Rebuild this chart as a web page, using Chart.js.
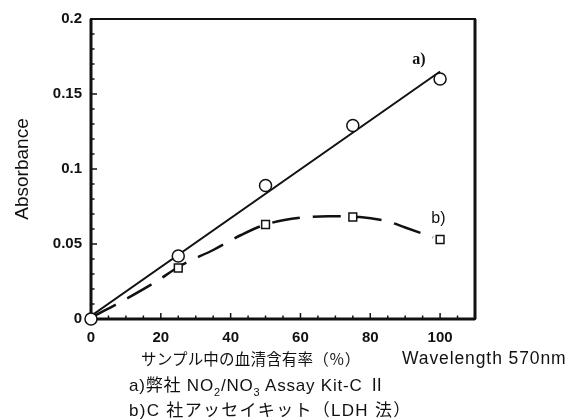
<!DOCTYPE html>
<html>
<head>
<meta charset="utf-8">
<script src="https://cdn.jsdelivr.net/npm/chart.js@4.4.0/dist/chart.umd.min.js"></script>
<style>
html, body { margin: 0; padding: 0; background: #fff; }
#wrap { position: relative; width: 571px; height: 420px; }
#wrap canvas { position: absolute; left: 0; top: 0; }
.note { position: absolute; font-family: "Liberation Sans", "Noto Sans CJK JP", sans-serif; font-size: 17px; color: #111; white-space: nowrap; line-height: 18px; letter-spacing: 0.8px; }
.note sub { font-size: 11px; vertical-align: -5px; line-height: 0; }
.cjk { font-family: "Noto Sans CJK JP", sans-serif; }
</style>
</head>
<body>
<div id="wrap">
  <canvas id="myChart" width="571" height="420"></canvas>
  <div class="note" style="left:141px; top:349px; font-size:15.5px; letter-spacing:0.2px;"><span class="cjk">サンプル中の血清含有率（％）</span></div>
  <div class="note" style="left:402px; top:349px; font-size:17.5px; letter-spacing:0.9px;">Wavelength 570nm</div>
  <div class="note" style="left:129px; top:375px;">a)<span class="cjk">弊社</span> NO<sub>2</sub>/NO<sub>3</sub> Assay Kit-C <span class="cjk">Ⅱ</span></div>
  <div class="note" style="left:129px; top:400px; letter-spacing:1.3px;">b)C <span class="cjk">社アッセイキット（</span>LDH <span class="cjk">法）</span></div>
</div>
<script>
// serum content in sample (%)
const sample_pct = [0, 25, 50, 75, 100];
// a) NO2/NO3 Assay Kit-C II
const kit_a = [0, 0.042, 0.089, 0.129, 0.160];
// b) other company kit (LDH)
const kit_b = [0, 0.034, 0.063, 0.068, 0.053];

// fitted line for a)
const fit_a_x = [0, 100];
const fit_a_y = [0.002, 0.165];
// hand drawn curve for b)
const fit_b_x = [0, 9, 18, 26, 35, 43, 50, 60, 68, 77, 85, 90, 98];
const fit_b_y = [0.001, 0.012, 0.024, 0.036, 0.046, 0.056, 0.063, 0.0675, 0.0685, 0.068, 0.065, 0.061, 0.0545];

const x_max = 110;
const y_max = 0.2;

function pairs(xs, ys) {
    return xs.map((x, i) => ({x: x, y: ys[i]}));
}

const ink = '#111';

// box around the plot and the inward ticks
const frame = {
    id: 'frame',
    beforeDatasetsDraw(chart) {
        const ctx = chart.ctx;
        const a = chart.chartArea;
        const xs = chart.scales.x, ys = chart.scales.y;
        ctx.save();
        ctx.strokeStyle = ink;
        ctx.lineWidth = 1.5;
        xs.ticks.forEach(t => {
            const px = xs.getPixelForValue(t.value);
            const len = t.value % 20 === 0 ? 6 : 3.5;
            ctx.beginPath();
            ctx.moveTo(px, a.bottom);
            ctx.lineTo(px, a.bottom - len);
            ctx.stroke();
        });
        ys.ticks.forEach(t => {
            const py = ys.getPixelForValue(t.value);
            const len = Math.round(t.value * 100) % 5 === 0 ? 6 : 3.5;
            ctx.beginPath();
            ctx.moveTo(a.left, py);
            ctx.lineTo(a.left + len, py);
            ctx.stroke();
        });
        ctx.lineWidth = 2;
        ctx.strokeRect(a.left, a.top, a.right - a.left, a.bottom - a.top);
        // vertical edges look heavier in the scan
        ctx.lineWidth = 3;
        ctx.beginPath();
        ctx.moveTo(a.left, a.top); ctx.lineTo(a.left, a.bottom);
        ctx.moveTo(a.right, a.top); ctx.lineTo(a.right, a.bottom);
        ctx.moveTo(a.left, a.bottom); ctx.lineTo(a.right, a.bottom);
        ctx.stroke();
        ctx.restore();
    },
    afterDraw(chart) {
        const ctx = chart.ctx;
        const xs = chart.scales.x, ys = chart.scales.y;
        ctx.save();
        ctx.fillStyle = ink;
        ctx.textBaseline = 'middle';
        ctx.textAlign = 'left';
        ctx.font = 'bold 16px "Liberation Serif"';
        ctx.fillText('a)', xs.getPixelForValue(92), ys.getPixelForValue(0.1727));
        ctx.font = '16px "Liberation Sans"';
        ctx.fillText('b)', xs.getPixelForValue(97.5), ys.getPixelForValue(0.067));
        ctx.restore();
    }
};

function draw_chart() {
    const ctx = document.getElementById('myChart');
    new Chart(ctx, {
        type: 'scatter',
        data: {
            datasets: [{
                label: 'a) points',
                data: pairs(sample_pct, kit_a),
                pointStyle: 'circle',
                pointRadius: 6,
                borderWidth: 1.5,
                borderColor: ink,
                backgroundColor: '#fff',
                showLine: false,
                clip: false
            }, {
                label: 'b) points',
                data: pairs(sample_pct, kit_b),
                pointStyle: 'rect',
                pointRadius: 5.5,
                borderWidth: 1.5,
                borderColor: ink,
                backgroundColor: '#fff',
                showLine: false,
                clip: false
            }, {
                label: 'a) fit',
                data: pairs(fit_a_x, fit_a_y),
                showLine: true,
                pointRadius: 0,
                borderColor: ink,
                borderWidth: 2
            }, {
                label: 'b) fit',
                data: pairs(fit_b_x, fit_b_y),
                showLine: true,
                pointRadius: 0,
                borderColor: ink,
                borderWidth: 2.5,
                borderDash: [28, 13],
                tension: 0.4,
                cubicInterpolationMode: 'monotone'
            }]
        },
        options: {
            responsive: false,
            animation: false,
            layout: {
                padding: {top: 19, right: 96, bottom: 71, left: 0}
            },
            plugins: {
                legend: {display: false},
                tooltip: {enabled: false}
            },
            scales: {
                x: {
                    type: 'linear',
                    min: 0,
                    max: x_max,
                    grid: {display: false},
                    border: {display: false},
                    afterFit: function(scale) { scale.height = 30; },
                    ticks: {
                        stepSize: 5,
                        autoSkip: false,
                        maxRotation: 0,
                        padding: 2,
                        color: ink,
                        font: {family: '"Liberation Sans"', size: 15, weight: 'bold'},
                        callback: function(value) {
                            return value % 20 === 0 && value <= 100 ? String(value) : '';
                        }
                    }
                },
                y: {
                    type: 'linear',
                    min: 0,
                    max: y_max,
                    grid: {display: false},
                    border: {display: false},
                    afterFit: function(scale) { scale.width = 91; },
                    title: {
                        display: true,
                        text: 'Absorbance',
                        color: ink,
                        padding: {top: 11, bottom: 0},
                        font: {family: '"Liberation Sans"', size: 19}
                    },
                    ticks: {
                        stepSize: 0.01,
                        autoSkip: false,
                        padding: 1,
                        color: ink,
                        font: {family: '"Liberation Sans"', size: 15, weight: 'bold'},
                        callback: function(value) {
                            const v = Math.round(value * 100);
                            return v % 5 === 0 ? String(v / 100) : '';
                        }
                    }
                }
            }
        },
        plugins: [frame]
    });
}
draw_chart();
</script>
</body>
</html>
